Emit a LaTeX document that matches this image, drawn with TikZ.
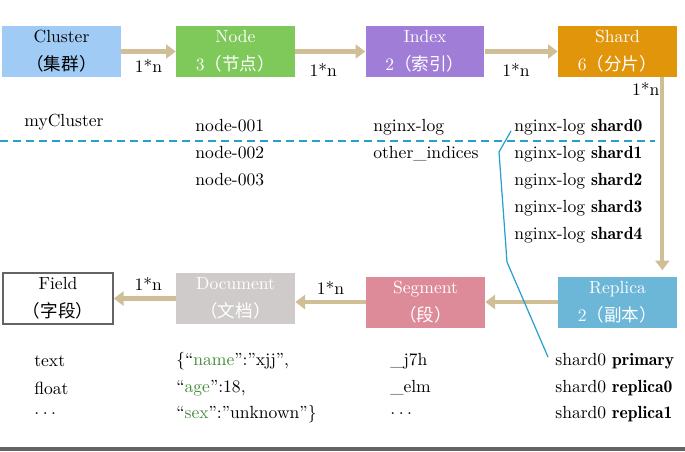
\documentclass[tikz,border=0pt]{standalone}
\usepackage{fontspec}
\setmainfont{lmroman10-regular.otf}[BoldFont=lmromandemi10-regular.otf,ItalicFont=lmroman10-italic.otf]
\newfontfamily\cjk{Noto Sans CJK SC}
\usetikzlibrary{calc,arrows.meta}
\definecolor{clusterblue}{RGB}{160,203,245}
\definecolor{nodegreen}{RGB}{126,201,90}
\definecolor{indexpurple}{RGB}{160,125,214}
\definecolor{shardorange}{RGB}{224,149,10}
\definecolor{docgray}{RGB}{208,203,203}
\definecolor{segpink}{RGB}{222,139,153}
\definecolor{replicablue}{RGB}{108,182,216}
\definecolor{flowtan}{RGB}{208,190,150}
\definecolor{dividerteal}{RGB}{40,160,200}
\definecolor{linkblue}{RGB}{40,160,210}
\definecolor{keygreen}{RGB}{70,140,60}
\definecolor{bargray}{RGB}{100,100,100}

\begin{document}
\begin{tikzpicture}[x=0.02cm,y=-0.02cm,
    box/.style={minimum width=2.38cm,minimum height=1.02cm,inner sep=0pt,align=center,text=white},
    flow/.style={draw=flowtan,line width=2.3pt,-{Triangle[width=8pt,length=5.5pt]}},
    item/.style={anchor=west,inner sep=0pt}]
    \useasboundingbox (0,0) rectangle (685,451);
    % top row
    \node[box,fill=clusterblue,text=black] at (61.5,51.5) (C) {Cluster\\[4pt]{\cjk （集群）}};
    \node[box,fill=nodegreen] at (235.5,51.5) (N) {Node\\[4pt]3{\cjk （节点）}};
    \node[box,fill=indexpurple] at (425,51.5) (I) {Index\\[4pt]2{\cjk （索引）}};
    \node[box,fill=shardorange] at (617.5,51.5) (S) {Shard\\[4pt]6{\cjk （分片）}};
    % bottom row
    \node[box,fill=white,text=black,draw=bargray,line width=1pt,minimum width=2.2cm] at (58,298.5) (F) {Field\\[4pt]{\cjk （字段）}};
    \node[box,fill=docgray] at (235.5,298.5) (D) {Document\\[4pt]{\cjk （文档）}};
    \node[box,fill=segpink] at (425.5,302) (G) {Segment\\[4pt]{\cjk （段）}};
    \node[box,fill=replicablue] at (617.5,302) (R) {Replica\\[4pt]2{\cjk （副本）}};
    % flows
    \draw[flow] (C.east) -- (N.west) node [midway,below] {1*n};
    \draw[flow] (N.east) -- (I.west) node [midway,below=2pt,xshift=-4pt] {1*n};
    \draw[flow] (I.east) -- (S.west) node [midway,below=2pt,xshift=-3pt] {1*n};
    \draw[flow] ($(S.south east)+(-15,0)$) -- ($(R.north east)+(-15,-6)$) node [pos=0.06,left,inner sep=0.5pt] {1*n};
    \draw[flow] (R.west) -- (G.east);
    \draw[flow] (G.west) -- (G.west -| D.east) node [midway,above] {1*n};
    \draw[flow] (D.west) -- (F.east) node [midway,above,xshift=2pt] {1*n};
    % names
    \node[item] at (24,122) (myc) {myCluster};
    \node[item] at (195,126) (n1) {node-001};
    \node[item] at (195,153) (n2) {node-002};
    \node[item] at (195,180) (n3) {node-003};
    \node[item] at (373,127) (ix1) {nginx-log};
    \node[item] at (373,154) (ix2) {other\_indices};
    \node[item] at (514,127) (s0) {nginx-log \textbf{shard0}};
    \node[item] at (514,154) (s1) {nginx-log \textbf{shard1}};
    \node[item] at (514,181) (s2) {nginx-log \textbf{shard2}};
    \node[item] at (514,208) (s3) {nginx-log \textbf{shard3}};
    \node[item] at (514,235) (s4) {nginx-log \textbf{shard4}};
    \node[item] at (34,361) (f1) {text};
    \node[item] at (34,388) (f2) {float};
    \node[item] at (34,414) (f3) {.\hspace{2pt}.\hspace{2pt}.};
    \node[item] at (176,361) (d1) {\{“\textcolor{keygreen}{name}”:”xjj”,};
    \node[item] at (176,388) (d2) {“\textcolor{keygreen}{age}”:18,};
    \node[item] at (176,414) (d3) {“\textcolor{keygreen}{sex}”:”unknown”\}};
    \node[item] at (390,361) (g1) {\_j7h};
    \node[item] at (390,388) (g2) {\_elm};
    \node[item] at (390,414) (g3) {.\hspace{2pt}.\hspace{2pt}.};
    \node[item] at (555,361) (p0) {shard0 \textbf{primary}};
    \node[item] at (555,388) (p1) {shard0 \textbf{replica0}};
    \node[item] at (555,414) (p2) {shard0 \textbf{replica1}};
    % divider
    \coordinate (divL) at (0,141);
    \coordinate (divR) at (655,141);
    \draw[draw=dividerteal,line width=1.15pt,dash pattern=on 4.6pt off 2.8pt] (divL) -- (divR);
    % shard0 link
    \coordinate (bendA) at (499,152);
    \coordinate (bendB) at (507,262);
    \draw[linkblue,line width=0.7pt] ($(s0.west)+(-3,4)$) -- (bendA) -- (bendB) -- ($(p0.west)+(-7,-4)$);
    % bottom bar
    \fill[bargray] (0,447) rectangle (685,451);
\end{tikzpicture}
\end{document}
